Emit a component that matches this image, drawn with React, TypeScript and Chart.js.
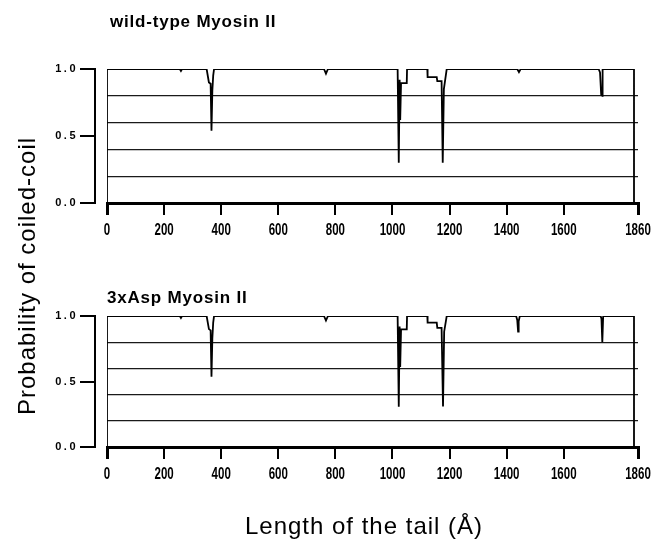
import React, { useEffect, useRef } from "react";
import { Chart, registerables } from "chart.js";

Chart.register(...registerables);

// ---- data ----
const xTickValues = [0, 200, 400, 600, 800, 1000, 1200, 1400, 1600, 1860];
const yTickValues = [0, 0.5, 1.0];
const gridValues = [0.2, 0.4, 0.6, 0.8];
const panelTitles = ["wild-type Myosin II", "3xAsp Myosin II"];
const xTitle = "Length of the tail (Å)";
const yTitle = "Probability of coiled-coil";

const wildTypeX = [
  0, 0, 255, 259, 263, 349, 357, 363, 366, 369, 372, 375, 760, 767, 774,
  1018, 1022, 1025, 1027, 1030, 1050, 1051, 1122, 1123, 1155, 1157, 1172, 1176, 1180, 1190,
  1437, 1443, 1449, 1722, 1727, 1731, 1735, 1736, 1846, 1846,
];
const wildTypeY = [
  0, 1, 1, 0.985, 1, 1, 0.9, 0.89, 0.54, 0.84, 0.95, 1, 1, 0.965, 1,
  1, 0.3, 0.92, 0.62, 0.895, 0.895, 1, 1, 0.94, 0.94, 0.91, 0.91, 0.3, 0.85, 1,
  1, 0.977, 1, 1, 0.975, 0.81, 0.8, 1, 1, 0,
];
const asp3X = [
  0, 0, 255, 259, 263, 349, 357, 363, 366, 369, 372, 375, 760, 767, 774,
  1018, 1022, 1025, 1027, 1030, 1050, 1051, 1122, 1123, 1155, 1157, 1172, 1177, 1181, 1190,
  1433, 1437, 1440, 1442, 1446, 1729, 1732, 1735, 1737, 1738, 1846, 1846,
];
const asp3Y = [
  0, 1, 1, 0.985, 1, 1, 0.9, 0.89, 0.537, 0.83, 0.95, 1, 1, 0.965, 1,
  1, 0.307, 0.92, 0.61, 0.898, 0.898, 1, 1, 0.95, 0.95, 0.91, 0.91, 0.31, 0.88, 1,
  1, 0.97, 0.88, 0.96, 1, 1, 0.98, 0.8, 0.8, 1, 1, 0,
];

const SANS = "'Liberation Sans', Arial, Helvetica, sans-serif";

const textPlugin = {
  id: "panelText",
  afterDraw(chart: any, _args: any, o: any) {
    const ctx = chart.ctx as CanvasRenderingContext2D;
    ctx.save();
    ctx.fillStyle = "#000";
    ctx.textBaseline = "alphabetic";
    ctx.textAlign = "left";
    (ctx as any).letterSpacing = "0.8px";
    ctx.font = `bold 17px ${SANS}`;
    ctx.fillText(o.title, o.titleX, o.titleY);
    if (o.axisTitles) {
      ctx.font = `24px ${SANS}`;
      (ctx as any).letterSpacing = "1px";
      ctx.textAlign = "center";
      ctx.fillText(xTitle, 364, 534);
      ctx.translate(35, 276);
      ctx.rotate(-Math.PI / 2);
      ctx.fillText(yTitle, 0, 0);
    }
    ctx.restore();
  },
};

// tick-label styling: letter spacing for y labels, horizontal condensing for x labels
const labelStylePlugin = {
  id: "labelStyle",
  beforeDraw(chart: any) {
    const y2: any = chart.scales.y2;
    if (y2 && !y2.__wrapped) {
      const orig = y2.drawLabels.bind(y2);
      y2.drawLabels = (area: any) => {
        const c = chart.ctx;
        c.save();
        c.letterSpacing = "2.5px";
        orig(area);
        c.restore();
      };
      y2.__wrapped = true;
    }
    const x: any = chart.scales.x;
    if (x && !x.__wrapped) {
      const orig = x.drawLabels.bind(x);
      const k = 0.72;
      x.drawLabels = (area: any) => {
        const c: any = chart.ctx;
        const proto = CanvasRenderingContext2D.prototype.fillText;
        c.fillText = function (t: string, px: number, py: number) {
          this.save();
          this.scale(k, 1);
          proto.call(this, t, px / k, py);
          this.restore();
        };
        orig(area);
        delete c.fillText;
      };
      x.__wrapped = true;
    }
  },
};

function makePanel(
  canvas: HTMLCanvasElement,
  xs: number[],
  ys: number[],
  p: { top: number; bottom: number; title: string; titleX: number; titleY: number; axisTitles: boolean }
) {
  const data = xs.map((x, i) => ({ x, y: ys[i] }));
  return new Chart(canvas, {
    type: "line",
    data: {
      datasets: [
        {
          data,
          borderColor: "#000",
          borderWidth: 1.8,
          pointRadius: 0,
          fill: false,
          tension: 0,
          xAxisID: "x",
          yAxisID: "y",
        },
      ],
    },
    plugins: [textPlugin, labelStylePlugin],
    options: {
      responsive: false,
      animation: false,
      events: [],
      layout: { padding: { left: 55, right: 13, top: p.top, bottom: p.bottom } },
      plugins: {
        legend: { display: false },
        tooltip: { enabled: false },
        title: { display: false },
        panelText: { title: p.title, titleX: p.titleX, titleY: p.titleY, axisTitles: p.axisTitles },
      } as any,
      scales: {
        x: {
          type: "linear",
          position: "bottom",
          min: 0,
          max: 1860,
          afterBuildTicks: (s: any) => {
            s.ticks = xTickValues.map((v) => ({ value: v }));
          },
          afterFit: (s: any) => {
            s.height = 40;
            s.paddingLeft = 0;
            s.paddingRight = 0;
          },
          ticks: {
            autoSkip: false,
            maxRotation: 0,
            padding: 6,
            color: "#000",
            font: { family: SANS, size: 16, weight: "bold" },
            callback: (v: any) => String(v),
          },
          grid: {
            drawOnChartArea: false,
            drawTicks: true,
            tickLength: 12,
            color: "#000",
            lineWidth: (c: any) => (c.index === 0 || c.index === xTickValues.length - 1 ? 3 : 2),
          },
          border: { display: true, color: "#000", width: 3 },
        },
        y: {
          type: "linear",
          position: "left",
          weight: 0,
          min: 0,
          max: 1,
          afterBuildTicks: (s: any) => {
            s.ticks = [0, ...gridValues, 1].map((v) => ({ value: v }));
          },
          afterFit: (s: any) => {
            s.width = 12;
            s.paddingTop = 0;
            s.paddingBottom = 0;
          },
          ticks: { display: false },
          grid: {
            drawTicks: false,
            color: (c: any) => (c.tick && gridValues.includes(c.tick.value) ? "#1a1a1a" : "rgba(0,0,0,0)"),
            lineWidth: 1.2,
          },
          border: { display: false },
        },
        y2: {
          type: "linear",
          position: "left",
          weight: 10,
          min: 0,
          max: 1,
          afterBuildTicks: (s: any) => {
            s.ticks = yTickValues.map((v) => ({ value: v }));
          },
          afterFit: (s: any) => {
            s.width = 40;
            s.paddingTop = 0;
            s.paddingBottom = 0;
          },
          ticks: {
            padding: 2,
            color: "#000",
            font: { family: SANS, size: 11, weight: "bold" },
            callback: (v: any) => Number(v).toFixed(1),
          },
          grid: { drawOnChartArea: false, drawTicks: true, tickLength: 15, color: "#000", lineWidth: 2 },
          border: { display: true, color: "#000", width: 2 },
        },
      } as any,
    },
  });
}

export default function App() {
  const topRef = useRef<HTMLCanvasElement>(null);
  const botRef = useRef<HTMLCanvasElement>(null);

  useEffect(() => {
    if (!topRef.current || !botRef.current) return;
    const c1 = makePanel(topRef.current, wildTypeX, wildTypeY, {
      top: 69,
      bottom: 539 - 203 - 40,
      title: panelTitles[0],
      titleX: 110,
      titleY: 27,
      axisTitles: false,
    });
    const c2 = makePanel(botRef.current, asp3X, asp3Y, {
      top: 316,
      bottom: 539 - 447 - 40,
      title: panelTitles[1],
      titleX: 107,
      titleY: 303,
      axisTitles: true,
    });
    return () => {
      c1.destroy();
      c2.destroy();
    };
  }, []);

  const cs: React.CSSProperties = { position: "absolute", left: 0, top: 0, width: 651, height: 539 };
  return (
    <div style={{ position: "fixed", left: 0, top: 0, width: 651, height: 539, background: "#fff" }}>
      <canvas ref={topRef} width={651} height={539} style={cs} />
      <canvas ref={botRef} width={651} height={539} style={cs} />
    </div>
  );
}
